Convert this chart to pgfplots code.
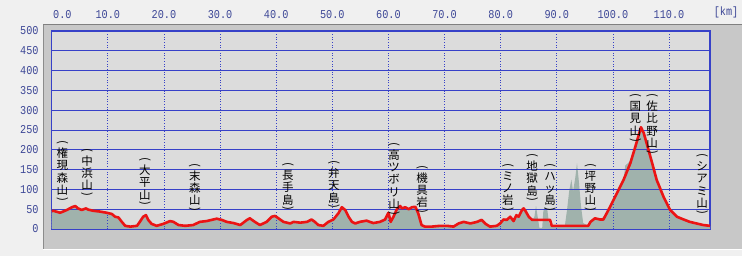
\documentclass[border=0pt]{standalone}
\usepackage{graphicx}
\usepackage{pgfplots}
\pgfplotsset{compat=1.18}
\usepackage{fontspec}
\setmainfont{Liberation Sans}
\newfontfamily\jp{Noto Sans CJK JP}
\newfontfamily\tickfont[FakeStretch=0.85]{Liberation Mono}
\definecolor{bgc}{RGB}{240,240,240}
\definecolor{panel}{RGB}{200,200,200}
\definecolor{plotbg}{RGB}{220,220,220}
\definecolor{frameblue}{RGB}{55,65,200}
\definecolor{tickblue}{RGB}{60,70,150}
\definecolor{route}{RGB}{235,20,20}
\definecolor{terrain}{RGB}{160,178,172}
\newcommand{\po}{\rotatebox[origin=c]{-90}{(}\\[-0.5pt]}
\newcommand{\pc}{\\[-4pt]\rotatebox[origin=c]{-90}{)}}
\newcommand{\vlab}[3]{\node[anchor=north, inner sep=0pt, align=center, font=\jp\fontsize{11.5}{12.3}\selectfont] at (axis cs:#1,#2) {#3};}

\pgfplotstableread{
x y
0 45
0.3 46
1.5 41
2.7 48
3.6 55
4.2 58
4.7 52
5.35 48
6.1 52
6.5 49
7.4 46
8.6 44
9.8 41
10.7 38
11.3 31
11.9 29
12.5 18
13.1 8
14.0 6
15.2 8
15.7 18
16.3 31
16.8 35
17.2 23
17.8 13
18.7 8
19.9 13
21.1 20
21.7 18
22.6 10
23.8 8
25.2 10
26.4 18
27.6 20
28.8 24
29.4 26
30.3 23
31.2 18
32.4 15
33.6 10
34.8 23
35.3 27
36.2 18
37.1 10
38.3 18
39.2 31
39.8 33
40.4 27
41.3 18
42.5 14
43.1 18
44.3 16
45.5 18
46.3 24
46.9 18
47.5 10
48.4 8
49.3 18
50.2 24
51.1 40
51.7 55
52.3 48
52.9 31
53.5 18
54.1 14
54.9 18
56.1 21
57.3 15
58.5 18
59.4 24
60.0 41
60.4 18
60.9 31
61.5 50
62.1 58
62.4 52
63.0 55
63.6 50
64.2 55
64.8 56
65.3 40
65.9 10
66.5 6
67.7 6
69.2 8
70.4 8
71.6 6
72.5 14
73.4 18
74.6 14
75.8 18
76.6 23
77.3 13
78.1 6
79.3 8
79.9 14
80.5 24
81.1 23
81.7 31
82.3 20
82.8 35
83.2 31
83.8 48
84.1 52
84.4 46
85.0 31
85.6 23
88.8 23
89.1 8
95.6 8
96.0 18
96.8 27
97.7 24
98.3 24
99.5 56
100.7 90
101.9 124
103.1 166
104.0 208
104.7 242
105.0 257
105.5 242
106.1 212
107.0 166
107.8 124
109.0 82
110.2 48
111.4 31
112.6 24
113.7 18
114.9 14
116.1 10
117.3 8
}\route

\pgfplotstableread{
x y
0 45
0.3 46
1.5 41
2.7 48
3.6 55
4.2 58
4.7 52
5.35 48
6.1 52
6.5 49
7.4 46
8.6 44
9.8 41
10.7 38
11.3 31
11.9 29
12.5 18
13.1 8
14.0 6
15.2 8
15.7 18
16.3 31
16.8 35
17.2 23
17.8 13
18.7 8
19.9 13
21.1 20
21.7 18
22.6 10
23.8 8
25.2 10
26.4 18
27.6 20
28.8 24
29.4 26
30.3 23
31.2 18
32.4 15
33.6 10
34.8 23
35.3 27
36.2 18
37.1 10
38.3 18
39.2 31
39.8 33
40.4 27
41.3 18
42.5 14
43.1 18
44.3 16
45.5 18
46.3 24
46.9 18
47.5 10
48.4 8
49.3 18
50.2 24
51.1 40
51.7 55
52.3 48
52.9 31
53.5 18
54.1 14
54.9 18
56.1 21
57.3 15
58.5 18
59.4 24
60.0 41
60.4 18
60.9 31
61.5 50
62.1 58
62.4 52
63.0 55
63.6 50
64.2 55
64.8 56
65.3 40
65.9 10
66.5 6
67.7 6
69.2 8
70.4 8
71.6 6
72.5 14
73.4 18
74.6 14
75.8 18
76.6 23
77.3 13
78.1 6
79.3 8
79.9 14
80.5 24
81.1 23
81.7 31
82.3 20
82.8 35
83.2 31
83.8 48
84.1 52
84.4 46
85.0 31
85.6 23
86.0 30
86.3 58
86.6 30
86.9 3
87.4 3
87.6 45
87.9 55
88.3 50
88.6 15
89.0 5
91.4 5
91.8 45
92.2 95
92.6 125
92.9 95
93.3 130
93.6 166
93.9 125
94.3 60
94.7 15
95.6 8
96.0 18
96.8 27
97.7 24
98.3 30
99.0 45
99.5 56
100.3 80
101.0 100
101.9 124
102.2 160
103.1 172
104.0 208
104.7 242
105.0 257
105.5 242
106.1 212
107.0 166
107.8 124
109.0 82
110.2 48
111.4 31
112.6 24
113.7 18
114.9 14
116.1 10
117.3 8
}\terrain

\begin{document}
\begin{tikzpicture}
\fill[bgc] (0pt,0pt) rectangle (742pt,256pt);
\fill[panel] (43pt,7pt) rectangle (742pt,232pt);
\draw[black!45, line width=1pt] (43.5pt,7pt) -- (43.5pt,232pt);
\draw[black!50, line width=1.5pt] (43pt,231.5pt) -- (742pt,231.5pt);
\draw[white, line width=1pt] (43pt,6.5pt) -- (742pt,6.5pt);
\begin{axis}[
  at={(51.7pt,27pt)}, anchor=south west,
  scale only axis, width=658.3pt, height=198pt,
  xmin=0, xmax=117.3, ymin=0, ymax=500,
  axis background/.style={fill=plotbg},
  axis line style={frameblue, line width=1.2pt},
  xtick={0,10,...,110}, ytick={0,50,...,500},
  xticklabels={\makebox[0pt][l]{\hspace{1.5pt}0.0},10.0,20.0,30.0,40.0,50.0,60.0,70.0,80.0,90.0,100.0,110.0},
  xticklabel pos=upper,
  major tick length=0pt,
  tick label style={font=\tickfont\fontsize{12}{12}\selectfont, text=tickblue, inner sep=0pt},
  /pgf/number format/assume math mode=true,
  yticklabel style={anchor=east, xshift=-13pt},
  xticklabel style={anchor=south, yshift=12pt},
]
\addplot[draw=none, fill=terrain] table[x=x,y=y] {\terrain} \closedcycle;
\pgfplotsinvokeforeach{50,100,...,450}{\draw[frameblue, line width=0.9pt] (axis cs:0,#1) -- (axis cs:117.3,#1);}
\pgfplotsinvokeforeach{0,10,...,110}{\draw[frameblue, dotted, line width=0.7pt] (axis cs:#1,0) -- (axis cs:#1,500);}
\addplot[route, line width=2.6pt, line join=round] table[x=x,y=y] {\route};
\draw[frameblue, line width=2pt] (rel axis cs:0,1) -- (rel axis cs:1,1);
\vlab{1.9}{225}{\po 権\\現\\森\\山\pc}
\vlab{6.3}{205}{\po 中\\浜\\山\pc}
\vlab{16.6}{182}{\po 大\\平\\山\pc}
\vlab{25.5}{167}{\po 末\\森\\山\pc}
\vlab{42.1}{169}{\po 長\\手\\島\pc}
\vlab{50.3}{174}{\po 弁\\天\\島\pc}
\vlab{61.0}{220}{\po 高\\ツ\\ボ\\リ\\山\pc}
\vlab{66.0}{162}{\po 機\\具\\岩\pc}
\vlab{81.3}{167}{\po ミ\\ノ\\岩\pc}
\vlab{85.6}{192}{\po 地\\獄\\島\pc}
\vlab{88.8}{167}{\po ハ\\ッ\\島\pc}
\vlab{96.0}{167}{\po 坪\\野\\山\pc}
\vlab{104.0}{343}{\po 国\\見\\山\pc}
\vlab{107.0}{343}{\po 佐\\比\\野\\山\pc}
\vlab{115.9}{192}{\po シ\\ア\\ミ\\山\pc}
\end{axis}
\node[anchor=south, inner sep=0pt, font=\tickfont\fontsize{12}{12}\selectfont, text=tickblue] at (726pt,237.7pt) {[km]};
\pgfresetboundingbox
\useasboundingbox (0pt,0pt) rectangle (742pt,256pt);
\end{tikzpicture}
\end{document}
